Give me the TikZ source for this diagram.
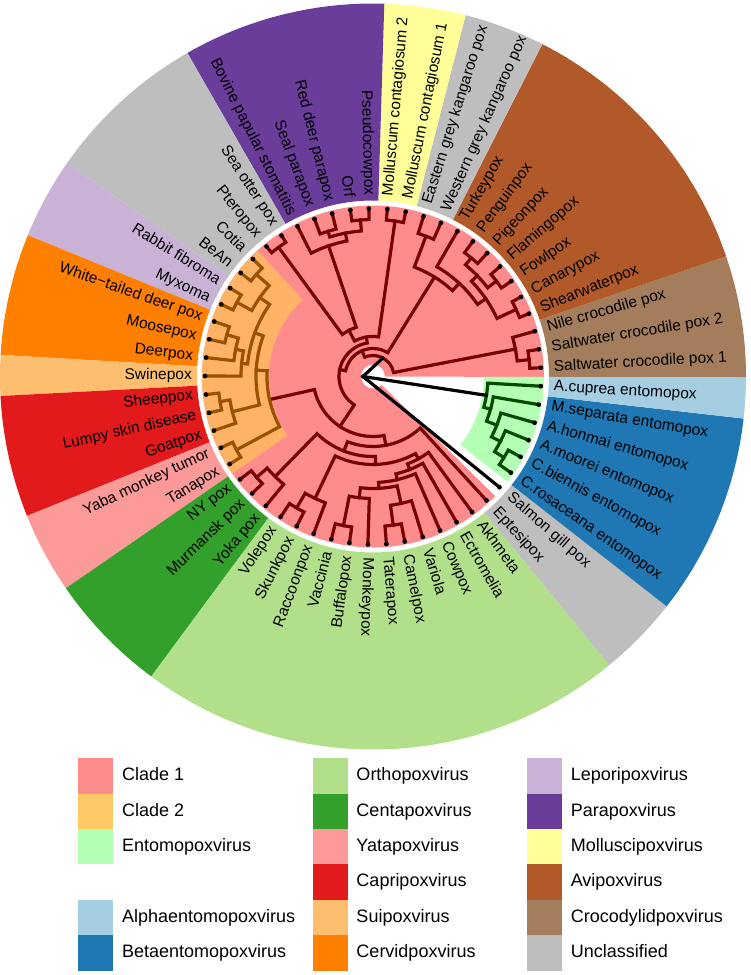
\documentclass[tikz,border=0pt]{standalone}
\usepackage{fontspec}
\setmainfont{Liberation Sans}
\usetikzlibrary{positioning}

% angle step between two tips: 360/57
\newcommand{\tipstep}{6.315789}
% clade: arc at radius #2 from leaf-position #3 to #5, with child branches out to #4 and #6
\newcommand{\clade}[6]{%
  \pgfmathsetmacro{\cla}{3+(#3-1)*\tipstep}%
  \pgfmathsetmacro{\clb}{3+(#5-1)*\tipstep}%
  \draw[#1] (\cla:#4pt) -- (\cla:#2pt) arc[start angle=\cla, end angle=\clb, radius=#2pt] -- (\clb:#6pt);}
% sector over leaves #2..#3 between radii #4 and #5
\newcommand{\sector}[5]{%
  \pgfmathsetmacro{\sca}{3+(#2-1.5)*\tipstep}%
  \pgfmathsetmacro{\scb}{3+(#3-0.5)*\tipstep}%
  \fill[#1] (\sca:#4pt) arc[start angle=\sca, end angle=\scb, radius=#4pt] -- (\scb:#5pt) arc[start angle=\scb, end angle=\sca, radius=#5pt] -- cycle;}

\tikzset{
  lbl/.style={font=\fontsize{15.5}{18}\selectfont, inner sep=0pt, text height=11pt, text depth=3pt},
  legsq/.style={minimum width=35pt, minimum height=35.4pt, inner sep=0pt},
  legtxt/.style={font=\fontsize{18}{21}\selectfont, inner sep=0pt, text height=13pt, text depth=3.5pt},
  branch/.style={line width=3.2pt, line join=miter, line cap=rect}
}

\begin{document}
\begin{tikzpicture}[x=1pt,y=1pt]
 \definecolor{cladeone}{HTML}{FF8C8C}
 \definecolor{cladetwo}{HTML}{FFC966}
 \definecolor{cladetwotree}{HTML}{FFB366}
 \definecolor{entomo}{HTML}{B3FFB3}
 \definecolor{alphaento}{HTML}{A6CEE3}
 \definecolor{betaento}{HTML}{1F78B4}
 \definecolor{orthop}{HTML}{B2DF8A}
 \definecolor{centap}{HTML}{33A02C}
 \definecolor{yatap}{HTML}{FB9A99}
 \definecolor{caprip}{HTML}{E31A1C}
 \definecolor{suip}{HTML}{FDBF6F}
 \definecolor{cervidp}{HTML}{FF7F00}
 \definecolor{leporip}{HTML}{CAB2D6}
 \definecolor{parap}{HTML}{6A3D9A}
 \definecolor{mollusp}{HTML}{FFFF99}
 \definecolor{avip}{HTML}{B15928}
 \definecolor{crocop}{HTML}{A47D5C}
 \definecolor{unclass}{HTML}{BEBEBE}
 \definecolor{brone}{HTML}{7A0000}
 \definecolor{brtwo}{HTML}{9A5200}
 \definecolor{brento}{HTML}{004D00}
 \useasboundingbox (-373,-598.5) rectangle (377,376.5);

 % label ring
 \sector{crocop}{1}{3}{176}{373}
 \sector{avip}{4}{10}{176}{373}
 \sector{unclass}{11}{12}{176}{373}
 \sector{mollusp}{13}{14}{176}{373}
 \sector{parap}{15}{19}{176}{373}
 \sector{unclass}{20}{23}{176}{373}
 \sector{leporip}{24}{25}{176}{373}
 \sector{cervidp}{26}{28}{176}{373}
 \sector{suip}{29}{29}{176}{373}
 \sector{caprip}{30}{32}{176}{373}
 \sector{yatap}{33}{34}{176}{373}
 \sector{centap}{35}{37}{176}{373}
 \sector{orthop}{38}{49}{176}{373}
 \sector{unclass}{50}{51}{176}{373}
 \sector{betaento}{52}{56}{176}{373}
 \sector{alphaento}{57}{57}{176}{373}

 % clade highlights
 \sector{cladeone}{1}{50}{12}{171}
 \sector{cladetwotree}{22}{34}{104}{171}
 \sector{entomo}{52}{57}{111}{171}

 % clade 1
 \clade{branch,brone}{157}{1}{168}{2}{168}
 \clade{branch,brone}{145}{1.5}{157}{3}{168}
 \clade{branch,brone}{158}{4}{168}{5}{168}
 \clade{branch,brone}{156}{6}{168}{7}{168}
 \clade{branch,brone}{154}{8}{168}{9}{168}
 \clade{branch,brone}{145}{6.5}{156}{8.5}{154}
 \clade{branch,brone}{137}{4.5}{158}{7.5}{145}
 \clade{branch,brone}{127}{6}{137}{10}{168}
 \clade{branch,brone}{150}{11}{168}{12}{168}
 \clade{branch,brone}{117}{8}{127}{11.5}{150}
 \clade{branch,brone}{157}{13}{168}{14}{168}
 \clade{branch,brone}{157}{15}{168}{16}{168}
 \clade{branch,brone}{152}{17}{168}{18}{168}
 \clade{branch,brone}{146}{15.5}{157}{17.5}{152}
 \clade{branch,brone}{138}{16.5}{146}{19}{168}
 \clade{branch,brone}{160}{20}{168}{21}{168}
 \clade{branch,brone}{52}{17.75}{138}{20.5}{160}
 \clade{branch,brone}{40}{13.5}{157}{19.125}{52}
 \clade{branch,brone}{154}{35}{168}{36}{168}
 \clade{branch,brone}{140}{35.5}{154}{37}{168}
 \clade{branch,brone}{152}{38}{168}{39}{168}
 \clade{branch,brone}{135}{38.5}{152}{40}{168}
 \clade{branch,brone}{152}{41}{168}{42}{168}
 \clade{branch,brone}{122}{41.5}{152}{43}{168}
 \clade{branch,brone}{150}{44}{168}{45}{168}
 \clade{branch,brone}{130}{44.5}{150}{46}{168}
 \clade{branch,brone}{112}{42.25}{122}{45.25}{130}
 \clade{branch,brone}{106}{43.75}{112}{47}{168}
 \clade{branch,brone}{100}{45.375}{106}{48}{168}
 \clade{branch,brone}{94}{46.6875}{100}{49}{168}
 \clade{branch,brone}{88}{39.25}{135}{47.84375}{94}
 \clade{branch,brone}{80}{36.25}{140}{43.546875}{88}
 \clade{branch,brone}{70}{39.8984375}{80}{50}{168}
 \clade{branch,brone}{60}{31.015625}{106}{44.94921875}{70}
 \clade{branch,brone}{34}{16.3125}{40}{37.982421875}{60}
 \clade{branch,brone}{28}{9.75}{117}{27.1474609375}{34}
 \clade{branch,brone}{21}{2.25}{145}{18.44873046875}{28}

 % clade 2
 \clade{branch,brtwo}{155}{22}{168}{23}{168}
 \clade{branch,brtwo}{155}{24}{168}{25}{168}
 \clade{branch,brtwo}{138}{22.5}{155}{24.5}{155}
 \clade{branch,brtwo}{152}{26}{168}{27}{168}
 \clade{branch,brtwo}{140}{26.5}{152}{28}{168}
 \clade{branch,brtwo}{132}{27.25}{140}{29}{168}
 \clade{branch,brtwo}{126}{23.5}{138}{28.125}{132}
 \clade{branch,brtwo}{155}{30}{168}{31}{168}
 \clade{branch,brtwo}{145}{30.5}{155}{32}{168}
 \clade{branch,brtwo}{117}{25.8125}{126}{31.25}{145}
 \clade{branch,brtwo}{155}{33}{168}{34}{168}
 \clade{branch,brtwo}{106}{28.53125}{117}{33.5}{155}

 % entomopoxvirus
 \clade{branch,brento}{154}{52}{168}{53}{168}
 \clade{branch,brento}{143}{52.5}{154}{54}{168}
 \clade{branch,brento}{133}{53.25}{143}{55}{168}
 \clade{branch,brento}{122}{54.125}{133}{56}{168}
 \clade{branch,brento}{115}{55.0625}{122}{57}{168}

 % root
 \coordinate (root) at (180:10pt);
 \coordinate (chordo) at ({3+(10.349365-1)*\tipstep}:21pt);
 \coordinate (entomo) at ({3+(56.03125-1)*\tipstep}:115pt);
 \coordinate (salmon) at ({3+50*\tipstep}:168pt);
 \draw [branch,black] (root) -- (chordo);
 \draw [branch,black] (root) -- (entomo);
 \draw [branch,black] (root) -- (salmon);

 % tips
 \foreach \i in {1,...,57}
  \fill ({3+(\i-1)*\tipstep}:168pt) circle (2.4pt);

 % tip labels
 \foreach \i/\vname in {1/Saltwater crocodile pox 1, 2/Saltwater crocodile pox 2,
   3/Nile crocodile pox, 4/Shearwaterpox, 5/Canarypox, 6/Fowlpox, 7/Flamingopox,
   8/Pigeonpox, 9/Penguinpox, 10/Turkeypox, 11/Western grey kangaroo pox,
   12/Eastern grey kangaroo pox, 13/Molluscum contagiosum 1, 14/Molluscum contagiosum 2,
   15/Pseudocowpox, 16/Orf, 17/Red deer parapox, 18/Seal parapox,
   19/Bovine papular stomatitis, 20/Sea otter pox, 21/Pteropox, 22/Cotia, 23/BeAn,
   24/Rabbit fibroma, 25/Myxoma, 26/White−tailed deer pox, 27/Moosepox, 28/Deerpox,
   29/Swinepox, 30/Sheeppox, 31/Lumpy skin disease, 32/Goatpox, 33/Yaba monkey tumor,
   34/Tanapox, 35/NY pox, 36/Murmansk pox, 37/Yoka pox, 38/Volepox, 39/Skunkpox,
   40/Raccoonpox, 41/Vaccinia, 42/Buffalopox, 43/Monkeypox, 44/Taterapox, 45/Camelpox,
   46/Variola, 47/Cowpox, 48/Ectromelia, 49/Akhmeta, 50/Eptesipox, 51/Salmon gill pox,
   52/C.rosaceana entomopox, 53/C.biennis entomopox, 54/A.moorei entomopox,
   55/A.honmai entomopox, 56/M.separata entomopox, 57/A.cuprea entomopox}{
  \pgfmathsetmacro{\labang}{3+(\i-1)*\tipstep}
  \ifnum\i<15
   \node [lbl,anchor=west,rotate=\labang] (lab\i) at (\labang:181pt) {\vname};
  \else\ifnum\i>42
   \node [lbl,anchor=west,rotate=\labang] (lab\i) at (\labang:181pt) {\vname};
  \else
   \node [lbl,anchor=east,rotate=\labang+180] (lab\i) at (\labang:181pt) {\vname};
  \fi\fi
 }

 % legend
 \node [legsq,fill=cladeone] (kclone) at (-277.2,-399.4) {};
 \node [legsq,fill=cladetwo] (kcltwo) at (-277.2,-434.8) {};
 \node [legsq,fill=entomo] (kento) at (-277.2,-470.2) {};
 \node [legsq,fill=alphaento] (kalpha) at (-277.2,-541.0) {};
 \node [legsq,fill=betaento] (kbeta) at (-277.2,-576.4) {};
 \node [legsq,fill=orthop] (kortho) at (-42.8,-399.4) {};
 \node [legsq,fill=centap] (kcenta) at (-42.8,-434.8) {};
 \node [legsq,fill=yatap] (kyata) at (-42.8,-470.2) {};
 \node [legsq,fill=caprip] (kcapri) at (-42.8,-505.6) {};
 \node [legsq,fill=suip] (ksui) at (-42.8,-541.0) {};
 \node [legsq,fill=cervidp] (kcervid) at (-42.8,-576.4) {};
 \node [legsq,fill=leporip] (klepori) at (171.5,-399.4) {};
 \node [legsq,fill=parap] (kpara) at (171.5,-434.8) {};
 \node [legsq,fill=mollusp] (kmollus) at (171.5,-470.2) {};
 \node [legsq,fill=avip] (kavi) at (171.5,-505.6) {};
 \node [legsq,fill=crocop] (kcroco) at (171.5,-541.0) {};
 \node [legsq,fill=unclass] (kunclass) at (171.5,-576.4) {};
 \node [legtxt,right=8.4pt of kclone] (tclone) {Clade 1};
 \node [legtxt,right=8.4pt of kcltwo] (tcltwo) {Clade 2};
 \node [legtxt,right=8.4pt of kento] (tento) {Entomopoxvirus};
 \node [legtxt,right=8.4pt of kalpha] (talpha) {Alphaentomopoxvirus};
 \node [legtxt,right=8.4pt of kbeta] (tbeta) {Betaentomopoxvirus};
 \node [legtxt,right=8.4pt of kortho] (tortho) {Orthopoxvirus};
 \node [legtxt,right=8.4pt of kcenta] (tcenta) {Centapoxvirus};
 \node [legtxt,right=8.4pt of kyata] (tyata) {Yatapoxvirus};
 \node [legtxt,right=8.4pt of kcapri] (tcapri) {Capripoxvirus};
 \node [legtxt,right=8.4pt of ksui] (tsui) {Suipoxvirus};
 \node [legtxt,right=8.4pt of kcervid] (tcervid) {Cervidpoxvirus};
 \node [legtxt,right=8.4pt of klepori] (tlepori) {Leporipoxvirus};
 \node [legtxt,right=8.4pt of kpara] (tpara) {Parapoxvirus};
 \node [legtxt,right=8.4pt of kmollus] (tmollus) {Molluscipoxvirus};
 \node [legtxt,right=8.4pt of kavi] (tavi) {Avipoxvirus};
 \node [legtxt,right=8.4pt of kcroco] (tcroco) {Crocodylidpoxvirus};
 \node [legtxt,right=8.4pt of kunclass] (tunclass) {Unclassified};
\end{tikzpicture}
\end{document}
